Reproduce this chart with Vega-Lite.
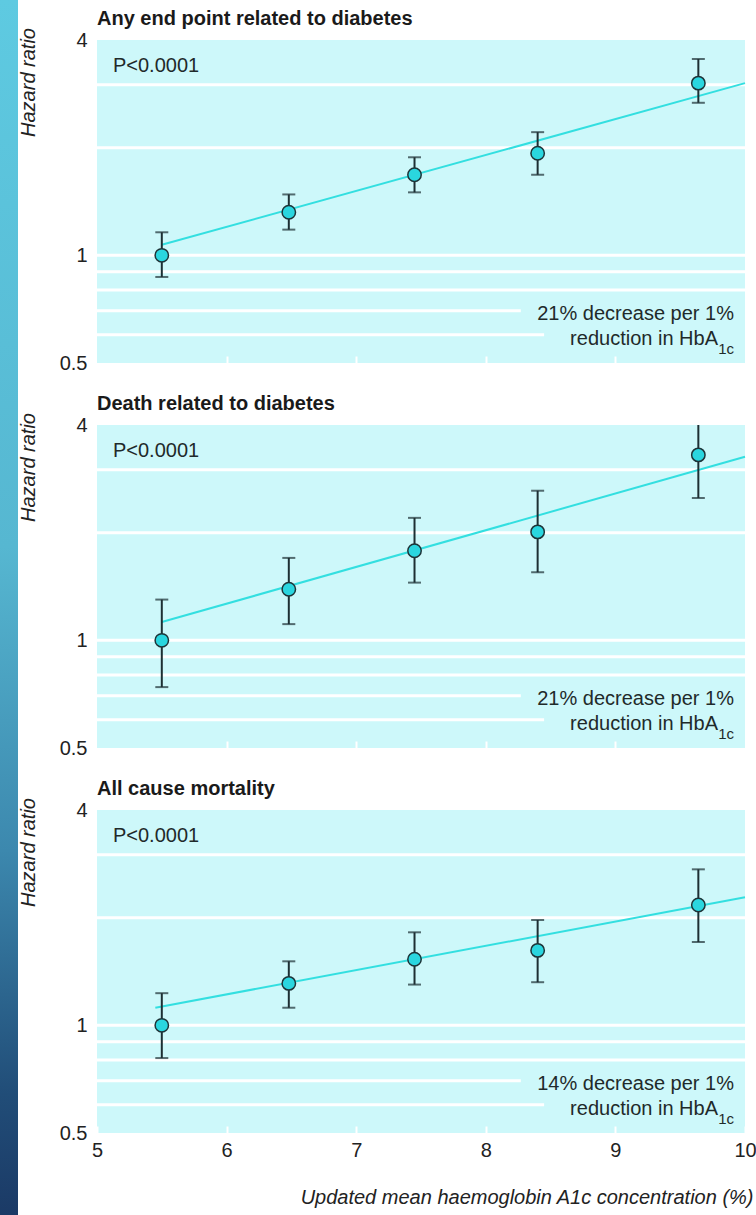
{
  "$schema": "https://vega.github.io/schema/vega-lite/v6.json",
  "padding": 0,
  "background": "white",
  "spacing": 0,
  "config": {
    "font": "Liberation Sans, Arial, sans-serif",
    "view": {"stroke": null}
  },
  "datasets": {
    "points": [
      {"panel": "A", "x": 5.5, "hr": 1.0, "lo": 0.87, "hi": 1.16},
      {"panel": "A", "x": 6.48, "hr": 1.32, "lo": 1.18, "hi": 1.48},
      {"panel": "A", "x": 7.45, "hr": 1.68, "lo": 1.5, "hi": 1.88},
      {"panel": "A", "x": 8.4, "hr": 1.93, "lo": 1.68, "hi": 2.21},
      {"panel": "A", "x": 9.64, "hr": 3.03, "lo": 2.67, "hi": 3.54},
      {"panel": "B", "x": 5.5, "hr": 1.0, "lo": 0.74, "hi": 1.3},
      {"panel": "B", "x": 6.48, "hr": 1.39, "lo": 1.11, "hi": 1.7},
      {"panel": "B", "x": 7.45, "hr": 1.78, "lo": 1.45, "hi": 2.2},
      {"panel": "B", "x": 8.4, "hr": 2.01, "lo": 1.55, "hi": 2.62},
      {"panel": "B", "x": 9.64, "hr": 3.3, "lo": 2.5, "hi": 4.3},
      {"panel": "C", "x": 5.5, "hr": 1.0, "lo": 0.81, "hi": 1.23},
      {"panel": "C", "x": 6.48, "hr": 1.31, "lo": 1.12, "hi": 1.51},
      {"panel": "C", "x": 7.45, "hr": 1.53, "lo": 1.3, "hi": 1.82},
      {"panel": "C", "x": 8.4, "hr": 1.62, "lo": 1.32, "hi": 1.97},
      {"panel": "C", "x": 9.64, "hr": 2.17, "lo": 1.71, "hi": 2.73}
    ],
    "fits": [
      {"panel": "A", "x": 5.5, "hr": 1.07},
      {"panel": "A", "x": 10, "hr": 3.03},
      {"panel": "B", "x": 5.5, "hr": 1.125},
      {"panel": "B", "x": 10, "hr": 3.26},
      {"panel": "C", "x": 5.45, "hr": 1.12},
      {"panel": "C", "x": 10, "hr": 2.28}
    ],
    "grid": [
      {"hr": 3, "x": 5, "xend": 10},
      {"hr": 2, "x": 5, "xend": 10},
      {"hr": 1, "x": 5, "xend": 10},
      {"hr": 0.9, "x": 5, "xend": 10},
      {"hr": 0.8, "x": 5, "xend": 10},
      {"hr": 0.7, "x": 5, "xend": 8.27},
      {"hr": 0.6, "x": 5, "xend": 8.45}
    ],
    "notes": [
      {"panel": "A", "kind": "p", "text": "P<0.0001", "x": 5.123, "hr": 3.25},
      {"panel": "A", "kind": "l1", "text": "21% decrease per 1%", "x": 9.915, "hr": 0.66},
      {"panel": "A", "kind": "l2", "text": "reduction in HbA", "x": 9.915, "hr": 0.561},
      {"panel": "A", "kind": "sub", "text": "1c", "x": 9.915, "hr": 0.53},
      {"panel": "B", "kind": "p", "text": "P<0.0001", "x": 5.123, "hr": 3.25},
      {"panel": "B", "kind": "l1", "text": "21% decrease per 1%", "x": 9.915, "hr": 0.66},
      {"panel": "B", "kind": "l2", "text": "reduction in HbA", "x": 9.915, "hr": 0.561},
      {"panel": "B", "kind": "sub", "text": "1c", "x": 9.915, "hr": 0.53},
      {"panel": "C", "kind": "p", "text": "P<0.0001", "x": 5.123, "hr": 3.25},
      {"panel": "C", "kind": "l1", "text": "14% decrease per 1%", "x": 9.915, "hr": 0.66},
      {"panel": "C", "kind": "l2", "text": "reduction in HbA", "x": 9.915, "hr": 0.561},
      {"panel": "C", "kind": "sub", "text": "1c", "x": 9.915, "hr": 0.53}
    ]
  },
  "hconcat": [
    {
      "width": 18,
      "height": 1175,
      "data": {"values": [{"a": 0}]},
      "mark": {
        "type": "rect",
        "fill": {
          "gradient": "linear", "x1": 0, "y1": 0, "x2": 0, "y2": 1,
          "stops": [
            {"offset": 0, "color": "#5ecae1"},
            {"offset": 0.45, "color": "#56b7d1"},
            {"offset": 0.7, "color": "#3c88ae"},
            {"offset": 0.9, "color": "#214d78"},
            {"offset": 1, "color": "#1b3a66"}
          ]
        }
      },
      "encoding": {
        "x": {"datum": 0, "type": "quantitative", "scale": {"domain": [0, 1]}, "axis": null},
        "x2": {"datum": 1},
        "y": {"datum": 0, "type": "quantitative", "scale": {"domain": [0, 1]}, "axis": null},
        "y2": {"datum": 1.03404}
      }
    },
    {
      "spacing": 20,
      "vconcat": [
        {
          "width": 648,
          "height": 323,
          "view": {"fill": "#cdf8fa", "stroke": null},
          "title": {"text": "Any end point related to diabetes", "anchor": "start", "frame": "group", "offset": -17, "baseline": "alphabetic", "fontSize": 20, "fontWeight": "bold", "color": "#1a1a1a"},
          "encoding": {
            "x": {"field": "x", "type": "quantitative", "scale": {"domain": [5, 10], "nice": false, "zero": false},
              "axis": {"values": [6, 7, 8, 9], "labels": false, "domain": false, "ticks": true, "tickSize": -7, "tickWidth": 2, "tickColor": "white", "grid": false, "title": null}},
            "y": {"field": "hr", "type": "quantitative", "scale": {"type": "log", "domain": [0.5, 4], "nice": false},
              "axis": {"values": [0.5, 1, 4], "format": "~g", "domain": false, "ticks": false, "grid": false, "labelFontSize": 20, "labelPadding": 10, "labelColor": "#222", "title": "Hazard ratio", "titleFontStyle": "italic", "titleFontWeight": "normal", "titleFontSize": 20, "titleColor": "#222", "titleX": -69, "titleY": 42, "titleAlign": "center", "titleBaseline": "middle", "titleAngle": -90}}
          },
          "layer": [
            {"data": {"name": "grid"}, "mark": {"type": "rule", "color": "white", "strokeWidth": 3}, "encoding": {"x2": {"field": "xend"}}},
            {"data": {"name": "fits"}, "transform": [{"filter": "datum.panel == 'A'"}], "mark": {"type": "line", "color": "#33dfe0", "strokeWidth": 2}},
            {"data": {"name": "points"}, "transform": [{"filter": "datum.panel == 'A'"}], "mark": {"type": "rule", "color": "#1d2f33", "strokeWidth": 2, "clip": true}, "encoding": {"y": {"field": "lo", "type": "quantitative", "axis": {"values": [0.5, 1, 4], "format": "~g", "domain": false, "ticks": false, "grid": false, "labelFontSize": 20, "labelPadding": 10, "labelColor": "#222", "title": "Hazard ratio", "titleFontStyle": "italic", "titleFontWeight": "normal", "titleFontSize": 20, "titleColor": "#222", "titleX": -69, "titleY": 42, "titleAlign": "center", "titleBaseline": "middle", "titleAngle": -90}}, "y2": {"field": "hi"}}},
            {"data": {"name": "points"}, "transform": [{"filter": "datum.panel == 'A'"}], "mark": {"type": "tick", "orient": "horizontal", "color": "#1d2f33", "thickness": 2, "size": 13, "clip": true}, "encoding": {"y": {"field": "lo", "type": "quantitative", "axis": {"values": [0.5, 1, 4], "format": "~g", "domain": false, "ticks": false, "grid": false, "labelFontSize": 20, "labelPadding": 10, "labelColor": "#222", "title": "Hazard ratio", "titleFontStyle": "italic", "titleFontWeight": "normal", "titleFontSize": 20, "titleColor": "#222", "titleX": -69, "titleY": 42, "titleAlign": "center", "titleBaseline": "middle", "titleAngle": -90}}}},
            {"data": {"name": "points"}, "transform": [{"filter": "datum.panel == 'A'"}], "mark": {"type": "tick", "orient": "horizontal", "color": "#1d2f33", "thickness": 2, "size": 13, "clip": true}, "encoding": {"y": {"field": "hi", "type": "quantitative", "axis": {"values": [0.5, 1, 4], "format": "~g", "domain": false, "ticks": false, "grid": false, "labelFontSize": 20, "labelPadding": 10, "labelColor": "#222", "title": "Hazard ratio", "titleFontStyle": "italic", "titleFontWeight": "normal", "titleFontSize": 20, "titleColor": "#222", "titleX": -69, "titleY": 42, "titleAlign": "center", "titleBaseline": "middle", "titleAngle": -90}}}},
            {"data": {"name": "points"}, "transform": [{"filter": "datum.panel == 'A'"}], "mark": {"type": "circle", "fill": "#2ad6df", "stroke": "#1d3438", "strokeWidth": 1.5, "size": 180, "opacity": 1}},
            {"data": {"name": "notes"}, "transform": [{"filter": "datum.panel == 'A' && datum.kind == 'p'"}], "mark": {"type": "text", "align": "left", "baseline": "alphabetic", "fontSize": 20, "color": "#1f2a2a"}, "encoding": {"text": {"field": "text"}}},
            {"data": {"name": "notes"}, "transform": [{"filter": "datum.panel == 'A' && datum.kind == 'l1'"}], "mark": {"type": "text", "align": "right", "baseline": "alphabetic", "fontSize": 20, "color": "#1f2a2a"}, "encoding": {"text": {"field": "text"}}},
            {"data": {"name": "notes"}, "transform": [{"filter": "datum.panel == 'A' && datum.kind == 'l2'"}], "mark": {"type": "text", "align": "right", "baseline": "alphabetic", "fontSize": 20, "dx": -16, "color": "#1f2a2a"}, "encoding": {"text": {"field": "text"}}},
            {"data": {"name": "notes"}, "transform": [{"filter": "datum.panel == 'A' && datum.kind == 'sub'"}], "mark": {"type": "text", "align": "right", "baseline": "alphabetic", "fontSize": 15, "color": "#1f2a2a"}, "encoding": {"text": {"field": "text"}}}
          ]
        },
        {
          "width": 648,
          "height": 323,
          "view": {"fill": "#cdf8fa", "stroke": null},
          "title": {"text": "Death related to diabetes", "anchor": "start", "frame": "group", "offset": -17, "baseline": "alphabetic", "fontSize": 20, "fontWeight": "bold", "color": "#1a1a1a"},
          "encoding": {
            "x": {"field": "x", "type": "quantitative", "scale": {"domain": [5, 10], "nice": false, "zero": false},
              "axis": {"values": [6, 7, 8, 9], "labels": false, "domain": false, "ticks": true, "tickSize": -7, "tickWidth": 2, "tickColor": "white", "grid": false, "title": null}},
            "y": {"field": "hr", "type": "quantitative", "scale": {"type": "log", "domain": [0.5, 4], "nice": false},
              "axis": {"values": [0.5, 1, 4], "format": "~g", "domain": false, "ticks": false, "grid": false, "labelFontSize": 20, "labelPadding": 10, "labelColor": "#222", "title": "Hazard ratio", "titleFontStyle": "italic", "titleFontWeight": "normal", "titleFontSize": 20, "titleColor": "#222", "titleX": -69, "titleY": 42, "titleAlign": "center", "titleBaseline": "middle", "titleAngle": -90}}
          },
          "layer": [
            {"data": {"name": "grid"}, "mark": {"type": "rule", "color": "white", "strokeWidth": 3}, "encoding": {"x2": {"field": "xend"}}},
            {"data": {"name": "fits"}, "transform": [{"filter": "datum.panel == 'B'"}], "mark": {"type": "line", "color": "#33dfe0", "strokeWidth": 2}},
            {"data": {"name": "points"}, "transform": [{"filter": "datum.panel == 'B'"}], "mark": {"type": "rule", "color": "#1d2f33", "strokeWidth": 2, "clip": true}, "encoding": {"y": {"field": "lo", "type": "quantitative", "axis": {"values": [0.5, 1, 4], "format": "~g", "domain": false, "ticks": false, "grid": false, "labelFontSize": 20, "labelPadding": 10, "labelColor": "#222", "title": "Hazard ratio", "titleFontStyle": "italic", "titleFontWeight": "normal", "titleFontSize": 20, "titleColor": "#222", "titleX": -69, "titleY": 42, "titleAlign": "center", "titleBaseline": "middle", "titleAngle": -90}}, "y2": {"field": "hi"}}},
            {"data": {"name": "points"}, "transform": [{"filter": "datum.panel == 'B'"}], "mark": {"type": "tick", "orient": "horizontal", "color": "#1d2f33", "thickness": 2, "size": 13, "clip": true}, "encoding": {"y": {"field": "lo", "type": "quantitative", "axis": {"values": [0.5, 1, 4], "format": "~g", "domain": false, "ticks": false, "grid": false, "labelFontSize": 20, "labelPadding": 10, "labelColor": "#222", "title": "Hazard ratio", "titleFontStyle": "italic", "titleFontWeight": "normal", "titleFontSize": 20, "titleColor": "#222", "titleX": -69, "titleY": 42, "titleAlign": "center", "titleBaseline": "middle", "titleAngle": -90}}}},
            {"data": {"name": "points"}, "transform": [{"filter": "datum.panel == 'B'"}], "mark": {"type": "tick", "orient": "horizontal", "color": "#1d2f33", "thickness": 2, "size": 13, "clip": true}, "encoding": {"y": {"field": "hi", "type": "quantitative", "axis": {"values": [0.5, 1, 4], "format": "~g", "domain": false, "ticks": false, "grid": false, "labelFontSize": 20, "labelPadding": 10, "labelColor": "#222", "title": "Hazard ratio", "titleFontStyle": "italic", "titleFontWeight": "normal", "titleFontSize": 20, "titleColor": "#222", "titleX": -69, "titleY": 42, "titleAlign": "center", "titleBaseline": "middle", "titleAngle": -90}}}},
            {"data": {"name": "points"}, "transform": [{"filter": "datum.panel == 'B'"}], "mark": {"type": "circle", "fill": "#2ad6df", "stroke": "#1d3438", "strokeWidth": 1.5, "size": 180, "opacity": 1}},
            {"data": {"name": "notes"}, "transform": [{"filter": "datum.panel == 'B' && datum.kind == 'p'"}], "mark": {"type": "text", "align": "left", "baseline": "alphabetic", "fontSize": 20, "color": "#1f2a2a"}, "encoding": {"text": {"field": "text"}}},
            {"data": {"name": "notes"}, "transform": [{"filter": "datum.panel == 'B' && datum.kind == 'l1'"}], "mark": {"type": "text", "align": "right", "baseline": "alphabetic", "fontSize": 20, "color": "#1f2a2a"}, "encoding": {"text": {"field": "text"}}},
            {"data": {"name": "notes"}, "transform": [{"filter": "datum.panel == 'B' && datum.kind == 'l2'"}], "mark": {"type": "text", "align": "right", "baseline": "alphabetic", "fontSize": 20, "dx": -16, "color": "#1f2a2a"}, "encoding": {"text": {"field": "text"}}},
            {"data": {"name": "notes"}, "transform": [{"filter": "datum.panel == 'B' && datum.kind == 'sub'"}], "mark": {"type": "text", "align": "right", "baseline": "alphabetic", "fontSize": 15, "color": "#1f2a2a"}, "encoding": {"text": {"field": "text"}}}
          ]
        },
        {
          "width": 648,
          "height": 323,
          "view": {"fill": "#cdf8fa", "stroke": null},
          "title": {"text": "All cause mortality", "anchor": "start", "frame": "group", "offset": -17, "baseline": "alphabetic", "fontSize": 20, "fontWeight": "bold", "color": "#1a1a1a"},
          "encoding": {
            "x": {"field": "x", "type": "quantitative", "scale": {"domain": [5, 10], "nice": false, "zero": false},
              "axis": {"values": [5, 6, 7, 8, 9, 10], "domain": false, "ticks": true, "tickSize": -7, "tickWidth": 2, "tickColor": "white", "grid": false, "labelFontSize": 20, "labelPadding": 14, "labelFlush": false, "labelColor": "#222", "title": "Updated mean haemoglobin A1c concentration (%)", "titleFontStyle": "italic", "titleFontWeight": "normal", "titleFontSize": 20, "titleColor": "#222", "titleAnchor": "end", "titleAlign": "right", "titleX": 656, "titleY": 70, "titleBaseline": "alphabetic"}},
            "y": {"field": "hr", "type": "quantitative", "scale": {"type": "log", "domain": [0.5, 4], "nice": false},
              "axis": {"values": [0.5, 1, 4], "format": "~g", "domain": false, "ticks": false, "grid": false, "labelFontSize": 20, "labelPadding": 10, "labelColor": "#222", "title": "Hazard ratio", "titleFontStyle": "italic", "titleFontWeight": "normal", "titleFontSize": 20, "titleColor": "#222", "titleX": -69, "titleY": 42, "titleAlign": "center", "titleBaseline": "middle", "titleAngle": -90}}
          },
          "layer": [
            {"data": {"name": "grid"}, "mark": {"type": "rule", "color": "white", "strokeWidth": 3}, "encoding": {"x2": {"field": "xend"}}},
            {"data": {"name": "fits"}, "transform": [{"filter": "datum.panel == 'C'"}], "mark": {"type": "line", "color": "#33dfe0", "strokeWidth": 2}},
            {"data": {"name": "points"}, "transform": [{"filter": "datum.panel == 'C'"}], "mark": {"type": "rule", "color": "#1d2f33", "strokeWidth": 2, "clip": true}, "encoding": {"y": {"field": "lo", "type": "quantitative", "axis": {"values": [0.5, 1, 4], "format": "~g", "domain": false, "ticks": false, "grid": false, "labelFontSize": 20, "labelPadding": 10, "labelColor": "#222", "title": "Hazard ratio", "titleFontStyle": "italic", "titleFontWeight": "normal", "titleFontSize": 20, "titleColor": "#222", "titleX": -69, "titleY": 42, "titleAlign": "center", "titleBaseline": "middle", "titleAngle": -90}}, "y2": {"field": "hi"}}},
            {"data": {"name": "points"}, "transform": [{"filter": "datum.panel == 'C'"}], "mark": {"type": "tick", "orient": "horizontal", "color": "#1d2f33", "thickness": 2, "size": 13, "clip": true}, "encoding": {"y": {"field": "lo", "type": "quantitative", "axis": {"values": [0.5, 1, 4], "format": "~g", "domain": false, "ticks": false, "grid": false, "labelFontSize": 20, "labelPadding": 10, "labelColor": "#222", "title": "Hazard ratio", "titleFontStyle": "italic", "titleFontWeight": "normal", "titleFontSize": 20, "titleColor": "#222", "titleX": -69, "titleY": 42, "titleAlign": "center", "titleBaseline": "middle", "titleAngle": -90}}}},
            {"data": {"name": "points"}, "transform": [{"filter": "datum.panel == 'C'"}], "mark": {"type": "tick", "orient": "horizontal", "color": "#1d2f33", "thickness": 2, "size": 13, "clip": true}, "encoding": {"y": {"field": "hi", "type": "quantitative", "axis": {"values": [0.5, 1, 4], "format": "~g", "domain": false, "ticks": false, "grid": false, "labelFontSize": 20, "labelPadding": 10, "labelColor": "#222", "title": "Hazard ratio", "titleFontStyle": "italic", "titleFontWeight": "normal", "titleFontSize": 20, "titleColor": "#222", "titleX": -69, "titleY": 42, "titleAlign": "center", "titleBaseline": "middle", "titleAngle": -90}}}},
            {"data": {"name": "points"}, "transform": [{"filter": "datum.panel == 'C'"}], "mark": {"type": "circle", "fill": "#2ad6df", "stroke": "#1d3438", "strokeWidth": 1.5, "size": 180, "opacity": 1}},
            {"data": {"name": "notes"}, "transform": [{"filter": "datum.panel == 'C' && datum.kind == 'p'"}], "mark": {"type": "text", "align": "left", "baseline": "alphabetic", "fontSize": 20, "color": "#1f2a2a"}, "encoding": {"text": {"field": "text"}}},
            {"data": {"name": "notes"}, "transform": [{"filter": "datum.panel == 'C' && datum.kind == 'l1'"}], "mark": {"type": "text", "align": "right", "baseline": "alphabetic", "fontSize": 20, "color": "#1f2a2a"}, "encoding": {"text": {"field": "text"}}},
            {"data": {"name": "notes"}, "transform": [{"filter": "datum.panel == 'C' && datum.kind == 'l2'"}], "mark": {"type": "text", "align": "right", "baseline": "alphabetic", "fontSize": 20, "dx": -16, "color": "#1f2a2a"}, "encoding": {"text": {"field": "text"}}},
            {"data": {"name": "notes"}, "transform": [{"filter": "datum.panel == 'C' && datum.kind == 'sub'"}], "mark": {"type": "text", "align": "right", "baseline": "alphabetic", "fontSize": 15, "color": "#1f2a2a"}, "encoding": {"text": {"field": "text"}}}
          ]
        }
      ]
    }
  ]
}
